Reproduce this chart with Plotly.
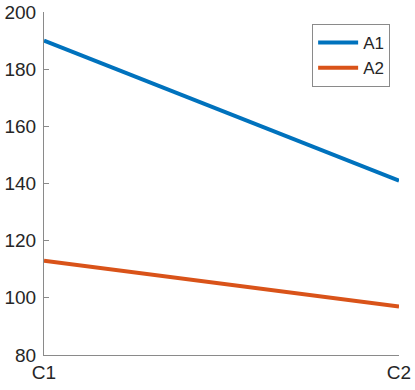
import plotly.graph_objects as go

categories = ["C1", "C2"]
a1_values = [190, 141]
a2_values = [113, 97]
series_names = ["A1", "A2"]
y_ticks = [80, 100, 120, 140, 160, 180, 200]

fig = go.Figure()
fig.add_trace(go.Scatter(x=categories, y=a1_values, mode="lines", name=series_names[0],
                         line=dict(color="#0072BD", width=4)))
fig.add_trace(go.Scatter(x=categories, y=a2_values, mode="lines", name=series_names[1],
                         line=dict(color="#D95319", width=4)))

text_color = "#262626"
line_color = "#8a8a8a"
fig.update_layout(
    width=415, height=390,
    margin=dict(l=44, r=16, t=12, b=35),
    paper_bgcolor="white", plot_bgcolor="white",
    font=dict(family="Liberation Sans, Arial, sans-serif", size=19, color=text_color),
    showlegend=True,
    legend=dict(x=0.975, xanchor="right", y=0.965, yanchor="top",
                bordercolor=line_color, borderwidth=1, bgcolor="white",
                font=dict(size=17), tracegroupgap=0, itemwidth=40),
    xaxis=dict(type="category", range=[0, 1], showgrid=False, zeroline=False,
               automargin=False,
               showline=True, linecolor=line_color, linewidth=1,
               ticks="inside", ticklen=5, tickcolor=line_color, tickwidth=1,
               tickvals=categories, ticktext=categories),
    yaxis=dict(range=[80, 200], showgrid=False, zeroline=False,
               automargin=False,
               showline=True, linecolor=line_color, linewidth=1,
               ticks="inside", ticklen=5, tickcolor=line_color, tickwidth=1,
               tickvals=y_ticks, ticklabelstandoff=3),
)

fig.write_html("out.html", config={"displayModeBar": False},
               post_script="document.body.style.margin='0';document.body.style.overflow='hidden';")
